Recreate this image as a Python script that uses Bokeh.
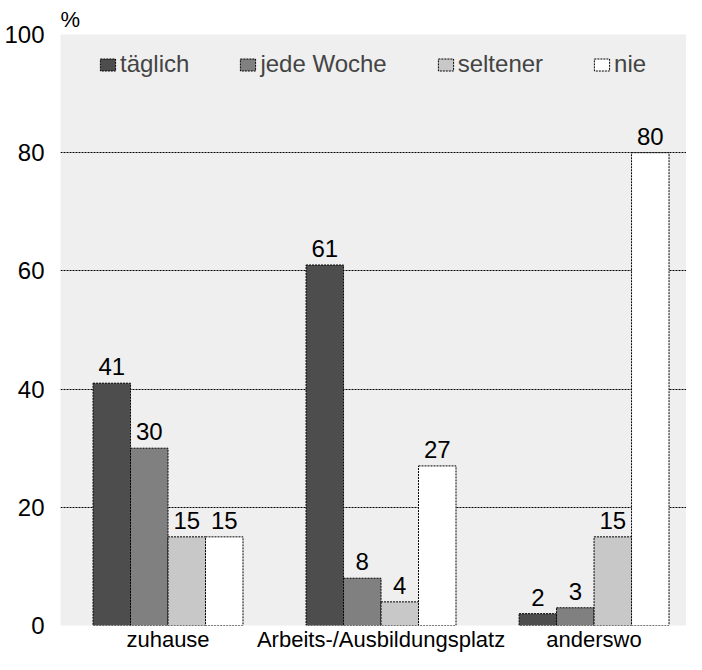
from bokeh.plotting import figure
from bokeh.models import (ColumnDataSource, Range1d, FixedTicker, Legend, LegendItem, Title)
from bokeh.transform import dodge
from bokeh.core.properties import value
from bokeh.embed import file_html
from bokeh.resources import INLINE

categories = ["zuhause", "Arbeits-/Ausbildungsplatz", "anderswo"]
series = ["täglich", "jede Woche", "seltener", "nie"]
taeglich = [41, 61, 2]
jede_woche = [30, 8, 3]
seltener = [15, 4, 15]
nie = [15, 27, 80]
y_ticks = [0, 20, 40, 60, 80, 100]

colors = ["#4d4d4d", "#808080", "#c8c8c8", "#ffffff"]
FONT = "Liberation Sans"

xpos = list(range(len(categories)))
data = dict(x=xpos, cat=categories)
for name, vals in zip(series, [taeglich, jede_woche, seltener, nie]):
    data[name] = vals
    data[name + "_lbl"] = [str(v) for v in vals]
src = ColumnDataSource(data)

H, TOP, BOTTOM = 654, 34, 28
F = H - TOP - BOTTOM

X0, X1 = -0.5047, 2.434
p = figure(width=686, height=H, output_backend="svg", toolbar_location=None,
           x_range=Range1d(X0, X1), y_range=Range1d(0, 100),
           min_border_left=60, min_border_right=0, min_border_top=TOP, min_border_bottom=BOTTOM)
p.background_fill_color = "#efefef"
p.border_fill_color = "white"
p.outline_line_color = None

bw = 0.176
offsets = [-1.5 * bw, -0.5 * bw, 0.5 * bw, 1.5 * bw]
renderers = []
for name, col, off in zip(series, colors, offsets):
    r = p.vbar(x=dodge("x", off, range=p.x_range), top=name, width=bw, source=src,
               fill_color=col, line_color="black", line_dash="2 1", line_width=1)
    renderers.append(r)
    p.text(x=dodge("x", off, range=p.x_range), y=name, text=name + "_lbl", source=src,
           text_align="center", text_baseline="bottom", y_offset=-8,
           text_font=value(FONT), text_font_size="24px", text_color="black")

# axes
p.xaxis.ticker = FixedTicker(ticks=xpos)
p.xaxis.major_label_overrides = {i: c for i, c in zip(xpos, categories)}
p.yaxis.ticker = FixedTicker(ticks=y_ticks)
for ax in (p.xaxis, p.yaxis):
    ax.axis_line_color = None
    ax.major_tick_line_color = None
    ax.minor_tick_line_color = None
    ax.major_tick_out = 0
    ax.major_tick_in = 0
    ax.minor_tick_out = 0
    ax.minor_tick_in = 0
    ax.major_label_text_font = FONT
    ax.major_label_text_color = "black"
p.yaxis.major_label_text_font_size = "24px"
p.xaxis.major_label_text_font_size = "22px"
p.yaxis.major_label_standoff = 16
p.xaxis.major_label_standoff = 1

p.xgrid.grid_line_color = None
p.ygrid.ticker = FixedTicker(ticks=y_ticks)
p.ygrid.grid_line_color = "black"
p.ygrid.grid_line_dash = "2 1"
p.ygrid.grid_line_width = 1

p.add_layout(Title(text="%", align="left", offset=0, standoff=6,
                   text_font=FONT, text_font_size="22px", text_font_style="normal",
                   text_color="black"), "above")

legend = Legend(items=[LegendItem(label=s, renderers=[r]) for s, r in zip(series, renderers)],
                orientation="horizontal", location=(38, F - 45), spacing=49,
                padding=0, margin=0, glyph_width=19, glyph_height=15, label_standoff=3,
                label_text_font=FONT, label_text_font_size="24px",
                background_fill_alpha=0, border_line_alpha=0)
p.add_layout(legend)

open("out.html", "w").write(file_html(p, INLINE))
